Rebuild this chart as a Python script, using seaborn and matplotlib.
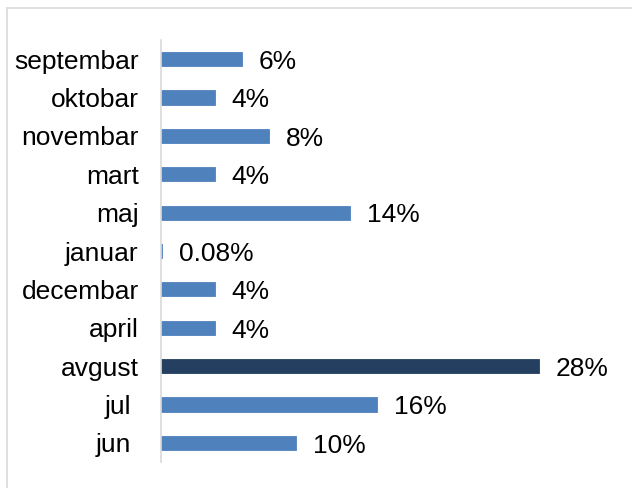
import matplotlib
matplotlib.use("Agg")
import matplotlib.pyplot as plt
import seaborn as sns
import pandas as pd
from matplotlib.lines import Line2D

categories = ["septembar", "oktobar", "novembar", "mart", "maj", "januar",
              "decembar", "april", "avgust", "jul ", "jun "]
values = [6, 4, 8, 4, 14, 0.08, 4, 4, 28, 16, 10]
labels = ["6%", "4%", "8%", "4%", "14%", "0.08%", "4%", "4%", "28%", "16%", "10%"]
highlight = "avgust"

sns.set_theme(style="white")
plt.rcParams['font.family'] = ['Liberation Sans', 'DejaVu Sans']

df = pd.DataFrame({"month": categories, "value": values})
palette = {c: ("#243F60" if c == highlight else "#4F81BD") for c in categories}

fig = plt.figure(figsize=(6.32, 4.88), dpi=100)
ax = fig.add_axes([161/632, 26/488, 405/632, 422/488])
sns.barplot(data=df, x="value", y="month", hue="month", palette=palette,
            order=categories, width=0.37, legend=False, ax=ax, saturation=1)
for p in ax.patches:
    p.set_edgecolor(p.get_facecolor())
    p.set_linewidth(0.6)

ax.set_xlim(0, 30)
ax.set_ylim(10.5, -0.5)
ax.set_xlabel("")
ax.set_ylabel("")
ax.set_xticks([])
for s in ["top", "right", "bottom"]:
    ax.spines[s].set_visible(False)
ax.spines["left"].set_color("#D9D9D9")
ax.spines["left"].set_linewidth(1.2)
ax.tick_params(axis="y", length=0, pad=16, labelsize=19, labelcolor="black")

for i, (v, lab) in enumerate(zip(values, labels)):
    ax.annotate(lab, xy=(v, i), xytext=(12, -2), textcoords="offset points",
                ha="left", va="center", fontsize=19, color="black",
                annotation_clip=False)

# figure border (left and top visible)
fig.add_artist(Line2D([7/632, 7/632], [0, 1 - 8/488], color="#D9D9D9", lw=1.2,
                      transform=fig.transFigure))
fig.add_artist(Line2D([7/632, 1], [1 - 8/488, 1 - 8/488], color="#D9D9D9", lw=1.2,
                      transform=fig.transFigure))

fig.savefig("out.png", dpi=100)
